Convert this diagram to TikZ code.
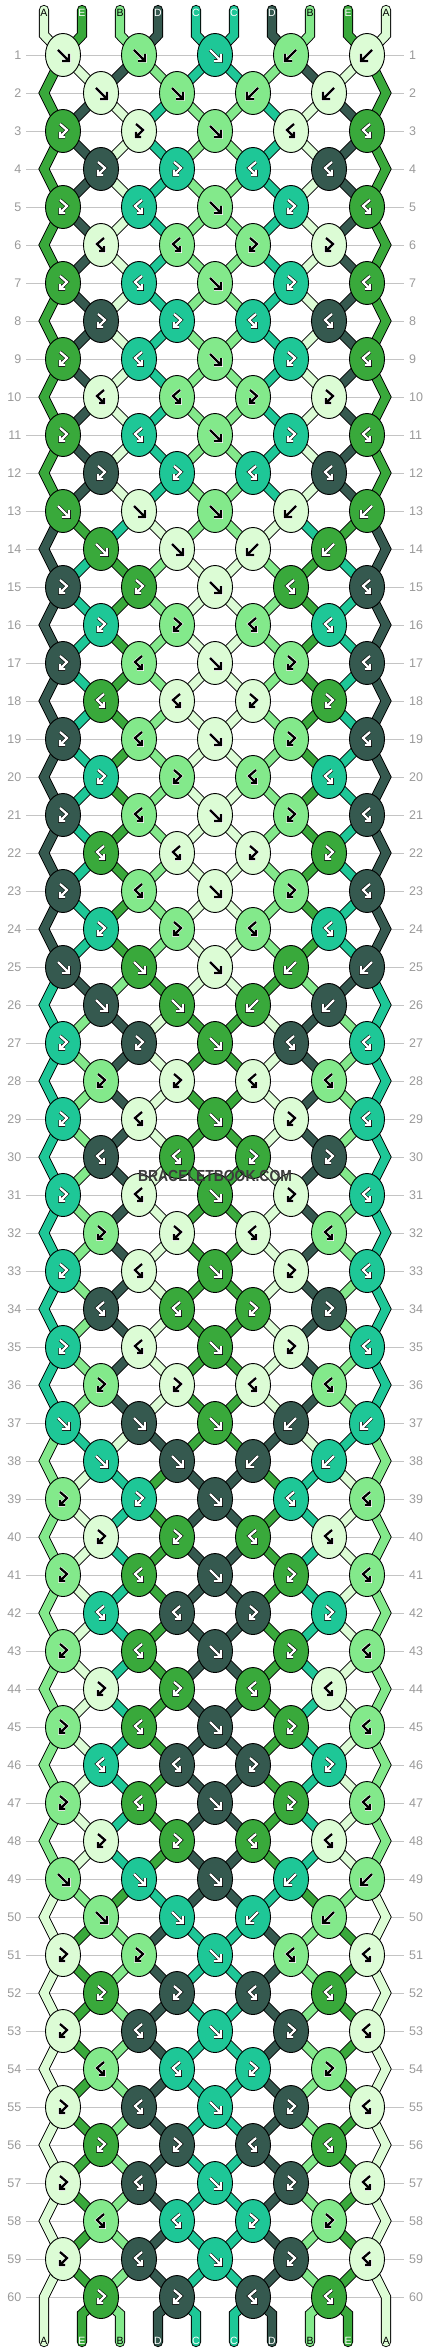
\documentclass[tikz,border=0pt]{standalone}
\usepackage{fontspec}
\setmainfont{Liberation Sans}
\usepackage{graphicx}
\usepackage{etoolbox}
\usetikzlibrary{shapes.geometric}
\definecolor{cA}{HTML}{DCFCD5}
\definecolor{cE}{HTML}{39A93B}
\definecolor{cB}{HTML}{83E98B}
\definecolor{cD}{HTML}{35594F}
\definecolor{cC}{HTML}{1EC797}
\definecolor{gridgray}{HTML}{C4C4C4}
\definecolor{numgray}{HTML}{9A9A9A}
\definecolor{wmark}{HTML}{3C3C3C}
\def\fgA{black}\def\ogA{white}
\def\fgB{black}\def\ogB{white}
\def\fgE{white}\def\ogE{black}
\def\fgD{white}\def\ogD{black}
\def\fgC{white}\def\ogC{black}
\pgfdeclarelayer{grid}
\pgfdeclarelayer{strings}
\pgfsetlayers{grid,strings,main}
\tikzset{
  knot/.style={ellipse, draw=black, line width=0.9pt, minimum width=35pt, minimum height=43pt, inner sep=0pt},
  str/.style={line width=8.4pt, line cap=round, line join=miter,
    preaction={draw=black, line width=10.2pt, line cap=round, line join=miter}},
  glyph/.style={line width=2.3pt, line cap=butt, line join=miter},
  rownum/.style={text=numgray, font=\fontsize{12.5}{14}\selectfont, inner sep=0pt},
  lbl/.style={font=\fontsize{10.5}{12}\selectfont, inner sep=0pt},
}
\newcommand\bbset[2]{\expandafter\xdef\csname bbX#1\endcsname{#2}}
\newcommand\bbget[1]{\csname bbX#1\endcsname}
\newcommand\deftypes[2]{\foreach \t [count=\k] in {#2}{\bbset{T-#1-\k}{\t}}}
\deftypes{0}{1,1,1,2,2}
\deftypes{2}{3,3,1,4,4}
\deftypes{4}{3,4,1,3,4}
\deftypes{6}{3,4,1,3,4}
\deftypes{8}{3,4,1,3,4}
\deftypes{10}{3,4,1,3,4}
\deftypes{1}{1,1,2,2}
\deftypes{3}{3,3,4,4}
\deftypes{7}{3,3,4,4}
\deftypes{11}{3,3,4,4}
\deftypes{5}{4,4,3,3}
\deftypes{9}{4,4,3,3}
\gdef\bbstrings{}
\newcommand\segto[2]{%
  \edef\segcol{\bbget{S#1}}\edef\segsrc{\bbget{P#1}}\edef\segvia{\bbget{V#1}}%
  \ifx\segvia\empty
    \xappto\bbstrings{\noexpand\draw[str, draw=c\segcol] (\segsrc.center) -- (#2.center);}%
  \else
    \xappto\bbstrings{\noexpand\draw[str, draw=c\segcol] (\segsrc.center) -- (\segvia) -- (#2.center);}%
  \fi
}
\newcommand\doknot[5]{%
  \pgfmathtruncatemacro\ii{#5+1}%
  \edef\ty{\bbget{T-\p-#2}}%
  \edef\cL{\bbget{S#5}}%
  \edef\cR{\bbget{S\ii}}%
  \ifodd\ty\relax \edef\kc{\cL}\else \edef\kc{\cR}\fi
  \node[knot, fill=c\kc] (k-#1-#2) at (#3,#4) {};
  \edef\fg{\csname fg\kc\endcsname}\edef\og{\csname og\kc\endcsname}%
  \begin{scope}[shift={(#3,#4)}]
    \ifcase\ty\relax\or
      \draw[glyph, draw=\fg, preaction={draw=\og, line width=3.5pt}] (-5,-5) -- (6,6) (6,-1) -- (6,6) -- (-1,6);
    \or
      \draw[glyph, draw=\fg, preaction={draw=\og, line width=3.5pt}] (5,-5) -- (-6,6) (-6,-1) -- (-6,6) -- (1,6);
    \or
      \draw[glyph, draw=\fg, preaction={draw=\og, line width=3.5pt}] (-3,-7) -- (4,-1) -- (-3,6) (-3,1) -- (-3,6) -- (2,6);
    \or
      \draw[glyph, draw=\fg, preaction={draw=\og, line width=3.5pt}] (3,-7) -- (-4,-1) -- (3,6) (3,1) -- (3,6) -- (-2,6);
    \fi
  \end{scope}
  \segto{#5}{k-#1-#2}%
  \segto{\ii}{k-#1-#2}%
  \bbset{P#5}{k-#1-#2}\bbset{P\ii}{k-#1-#2}%
  \bbset{V#5}{}\bbset{V\ii}{}%
  \ifnum\ty<3 \bbset{S#5}{\cR}\bbset{S\ii}{\cL}\fi
}
\begin{document}
\begin{tikzpicture}[x=1pt,y=-1pt]
\begin{pgfonlayer}{grid}
  \fill[white] (0,0) rectangle (430,2352);
  \foreach \r in {1,...,60}{
    \pgfmathtruncatemacro\yy{55+38*(\r-1)}
    \draw[gridgray, line width=0.9pt] (26,\yy) -- (404,\yy);
  }
\end{pgfonlayer}
\useasboundingbox (0,0) rectangle (430,2352);
% top string ends
\foreach \col [count=\i] in {A,E,B,D,C,C,D,B,E,A}{
  \pgfmathtruncatemacro\xx{44+38*(\i-1)}
  \coordinate (top-\i) at (\xx,10);
  \coordinate (tb-\i) at (\xx,35);
  \bbset{S\i}{\col}\bbset{P\i}{top-\i}\bbset{V\i}{tb-\i}
  \node[lbl, text=\csname fg\col\endcsname] (tl-\i) at (\xx,12.5) {\col};
}
% rows
\foreach \r in {1,...,60}{
  \pgfmathtruncatemacro\p{mod(\r-1,12)}
  \pgfmathtruncatemacro\yy{55+38*(\r-1)}
  \node[rownum, anchor=east] (nl-\r) at (21.5,\yy) {\r};
  \node[rownum, anchor=west] (nr-\r) at (409,\yy) {\r};
  \ifodd\r
    \foreach \j in {1,...,5}{
      \pgfmathtruncatemacro\xx{63+76*(\j-1)}
      \pgfmathtruncatemacro\lp{2*\j-1}
      \doknot{\r}{\j}{\xx}{\yy}{\lp}
    }
    \pgfmathtruncatemacro\yn{\yy+38}
    \coordinate (eL-\r) at (44,\yn);
    \coordinate (eR-\r) at (386,\yn);
    \bbset{V1}{eL-\r}\bbset{V10}{eR-\r}
  \else
    \foreach \j in {1,...,4}{
      \pgfmathtruncatemacro\xx{101+76*(\j-1)}
      \pgfmathtruncatemacro\lp{2*\j}
      \doknot{\r}{\j}{\xx}{\yy}{\lp}
    }
  \fi
}
% bottom string ends
\foreach \i in {1,...,10}{
  \pgfmathtruncatemacro\xx{44+38*(\i-1)}
  \coordinate (bot-\i) at (\xx,2342);
  \edef\segvia{\bbget{V\i}}
  \ifx\segvia\empty
    \coordinate (bb-\i) at (\xx,2314);
    \bbset{V\i}{bb-\i}
  \fi
  \segto{\i}{bot-\i}
  \edef\col{\bbget{S\i}}
  \node[lbl, text=\csname fg\col\endcsname] (bl-\i) at (\xx,2341) {\col};
}
\begin{pgfonlayer}{strings}
  \bbstrings
\end{pgfonlayer}
\node[font=\bfseries\fontsize{16}{18}\selectfont, text=wmark, inner sep=0pt] (wm) at (215,1176) {\scalebox{0.87}[1]{BRACELETBOOK.COM}};
\end{tikzpicture}
\end{document}
